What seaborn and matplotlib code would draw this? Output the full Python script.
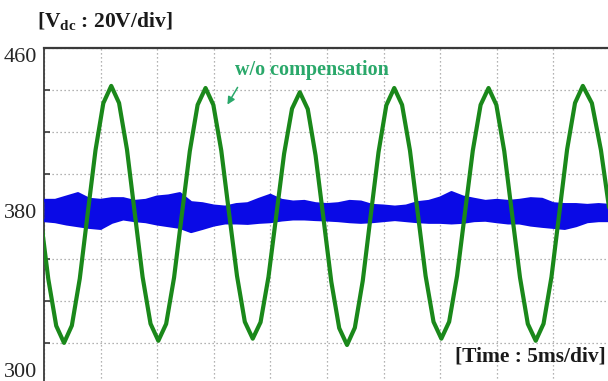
import matplotlib
matplotlib.use("Agg")
import matplotlib.pyplot as plt
import matplotlib.transforms as mtransforms
import seaborn as sns
import pandas as pd

# ---------------- data ----------------
# time axis: 5 ms/div, 10 divisions; voltage axis: 20 V/div, 300..460 V
x_limits = [0, 50]
y_limits = [300, 460]
y_ticks = [300, 320, 340, 360, 380, 400, 420, 440, 460]
y_tick_labels = ["300", "", "", "", "380", "", "", "", "460"]
x_ticks = [0, 5, 10, 15, 20, 25, 30, 35, 40, 45, 50]

# green trace: w/o compensation (ms, V)
green_t = [-0.32, 0.38, 1.08, 1.77, 2.46, 3.16, 3.85, 4.55, 5.24, 5.94,
           6.63, 7.33, 8.02, 8.71, 9.41, 10.10,
           10.79, 11.49, 12.18, 12.88, 13.57, 14.27,
           14.96, 15.66, 16.35, 17.05, 17.74, 18.44,
           19.13, 19.83, 20.52, 21.21, 21.91, 22.60,
           23.30, 23.99, 24.69, 25.38, 26.08, 26.77,
           27.46, 28.16, 28.85, 29.55, 30.24, 30.94,
           31.63, 32.33, 33.02, 33.71, 34.41, 35.10,
           35.79, 36.49, 37.18, 37.88, 38.57, 39.27,
           39.96, 40.66, 41.35, 42.05, 42.74, 43.44,
           44.13, 44.83, 45.52, 46.21, 46.91, 47.60,
           48.40, 49.20, 50.00, 50.80]
green_v = [380.5, 350.3, 328.1, 320.0, 328.2, 350.5, 381.0, 411.5, 433.8, 442.0,
           433.9, 411.8, 381.5, 351.3, 329.1, 321.0,
           329.0, 351.0, 381.0, 411.0, 433.0, 441.0,
           433.0, 411.3, 381.5, 351.8, 330.0, 322.0,
           329.8, 351.3, 380.5, 409.8, 431.2, 439.0,
           431.0, 409.0, 379.0, 349.0, 327.0, 319.0,
           327.2, 349.5, 380.0, 410.5, 432.8, 441.0,
           433.0, 411.3, 381.5, 351.8, 330.0, 322.0,
           330.0, 351.8, 381.5, 411.3, 433.0, 441.0,
           433.0, 411.0, 381.0, 351.0, 329.0, 321.0,
           329.1, 351.3, 381.5, 411.8, 433.9, 442.0,
           433.8, 411.5, 381.0, 350.5]

# blue trace: with compensation, noisy band (upper / lower envelope)
blue_t = list(range(51))
blue_top = [387.6, 387.6, 389.2, 390.8, 388.1, 387.6, 388.4, 388.4, 387.1, 387.6,
            389.2, 389.7, 390.8, 386.5, 386.0, 384.9, 384.4, 385.6, 386.0, 388.1,
            390.0, 387.6, 386.8, 387.1, 386.0, 385.6, 386.0, 387.1, 386.8, 385.2,
            384.9, 384.4, 384.9, 386.5, 387.1, 388.7, 391.3, 389.2, 388.1, 387.1,
            387.6, 387.1, 387.6, 388.4, 388.1, 386.0, 385.6, 385.6, 385.2, 385.6,
            385.2]
blue_bot = [378.1, 377.6, 376.5, 375.7, 374.9, 374.4, 377.3, 378.9, 378.1, 377.6,
            376.5, 375.7, 374.9, 372.9, 374.4, 376.0, 377.0, 377.0, 376.8, 377.3,
            377.6, 378.4, 378.9, 378.9, 378.6, 378.4, 378.1, 377.6, 377.3, 377.6,
            378.1, 378.6, 378.1, 377.6, 377.3, 377.3, 377.0, 377.3, 378.1, 378.3,
            377.6, 377.0, 377.0, 376.0, 375.4, 374.9, 374.4, 375.7, 377.6, 378.1,
            378.1]

title_text = "[V$_{\\mathbf{dc}}$ : 20V/div]"
time_text = "[Time : 5ms/div]"
annot_text = "w/o compensation"

# ---------------- style ----------------
sns.set_theme(style="white")
plt.rcParams["font.family"] = ["Liberation Serif", "DejaVu Serif"]
plt.rcParams["mathtext.fontset"] = "custom"
plt.rcParams["mathtext.rm"] = "Liberation Serif:bold"
plt.rcParams["mathtext.bf"] = "Liberation Serif:bold"

GREEN = "#1a881a"
BLUE = "#0a0ae6"
TEAL = "#2aa86a"

fig = plt.figure(figsize=(6.08, 3.81), dpi=100)
ax = fig.add_axes([44 / 608, -4 / 381, 566 / 608, (381 - 48 + 4) / 381])

# grid (oscilloscope divisions)
ax.set_xlim(*x_limits)
ax.set_ylim(*y_limits)
ax.set_xticks(x_ticks)
ax.set_yticks(y_ticks)
ax.set_yticklabels(y_tick_labels)
ax.set_xticklabels([])
ax.grid(True, color="#9a9a9a", linestyle=(0, (1, 2.2)), linewidth=0.9)

# blue band
ax.fill_between(blue_t, blue_bot, blue_top, color=BLUE, linewidth=0, zorder=3)
blue_df = pd.DataFrame({"t": blue_t * 2,
                        "v": blue_top + blue_bot,
                        "edge": ["top"] * len(blue_t) + ["bot"] * len(blue_t)})
sns.lineplot(data=blue_df, x="t", y="v", units="edge", estimator=None,
             color=BLUE, linewidth=2.4, ax=ax, zorder=3)

# green trace
green_df = pd.DataFrame({"t": green_t, "v": green_v})
sns.lineplot(data=green_df, x="t", y="v", color=GREEN, linewidth=3.0,
             ax=ax, zorder=4, sort=False)

ax.set_xlabel("")
ax.set_ylabel("")

# spines
for s in ["top", "left"]:
    ax.spines[s].set_visible(True)
    ax.spines[s].set_color("#3a3a3a")
ax.spines["top"].set_linewidth(1.6)
ax.spines["left"].set_linewidth(1.3)
ax.spines["right"].set_visible(False)
ax.spines["bottom"].set_visible(False)

ax.tick_params(axis="y", direction="in", length=4, width=1.2, color="#3a3a3a",
               labelsize=16, pad=5, left=True)
ax.tick_params(axis="x", length=0)

# nudge y tick labels like the reference
offsets = {"460": -7.5, "380": 5.0, "300": 15.0}
for lab in ax.get_yticklabels():
    txt = lab.get_text()
    if txt in offsets:
        lab.set_transform(lab.get_transform() +
                          mtransforms.ScaledTranslation(0, offsets[txt] / 100, fig.dpi_scale_trans))

# texts
fig.text(37 / 608, 1 - 22 / 381, title_text, fontsize=15.5, fontweight="bold",
         ha="left", va="center", color="#1a1a1a")
fig.text(606 / 608, 1 - 357 / 381, time_text, fontsize=15.5, fontweight="bold",
         ha="right", va="center", color="#1a1a1a")
fig.text(312 / 608, 1 - 70 / 381, annot_text, fontsize=14.5, fontweight="bold",
         ha="center", va="center", color=TEAL, zorder=6)
fig.add_artist(matplotlib.patches.FancyArrowPatch(
    (239 / 608, 1 - 85 / 381), (226 / 608, 1 - 107 / 381),
    transform=fig.transFigure, arrowstyle="-|>", mutation_scale=11,
    color=TEAL, linewidth=1.1))

fig.savefig("out.png", dpi=100)
